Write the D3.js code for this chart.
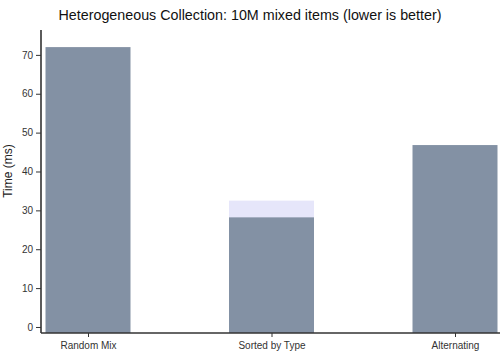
<!DOCTYPE html>
<html>
<head>
<meta charset="utf-8">
<script src="https://cdn.jsdelivr.net/npm/d3@7"></script>
<style>
  body { margin: 0; background: #fff; }
  svg { display: block; font-family: "Liberation Sans", Arial, sans-serif; }
</style>
</head>
<body>
<div id="chart"></div>
<script>
const categories = ["Random Mix", "Sorted by Type", "Alternating"]
const timeMs = [72, 28.2, 46.8]
const upperMs = [null, 32.5, null]
const yTicks = [0, 10, 20, 30, 40, 50, 60, 70]

const width = 500
const height = 357
const margin = { top: 30, right: 0, bottom: 24, left: 41 }

const svg = d3.select("#chart")
  .append("svg")
  .attr("width", width)
  .attr("height", height)

svg.append("text")
  .attr("x", 250)
  .attr("y", 20)
  .attr("text-anchor", "middle")
  .style("font-size", "14.3px")
  .style("fill", "#111")
  .text("Heterogeneous Collection: 10M mixed items (lower is better)")

const bottom = height - margin.bottom
// y domain slightly padded below zero, bars start from the axis line
const y = d3.scaleLinear()
  .domain([-1.55, 76.4])
  .range([bottom, margin.top])

const x = d3.scalePoint()
  .domain(categories)
  .range([88, 455])
const barWidth = 85

const data = categories.map((c, i) => ({ cat: c, value: timeMs[i], upper: upperMs[i] }))

svg.append("g")
  .selectAll("rect.upper")
  .data(data.filter(d => d.upper != null))
  .join("rect")
  .attr("class", "upper")
  .attr("x", d => x(d.cat) - barWidth / 2)
  .attr("y", d => y(d.upper))
  .attr("width", barWidth)
  .attr("height", d => bottom - y(d.upper))
  .attr("fill", "#e6e6fa")

svg.append("g")
  .selectAll("rect.bar")
  .data(data)
  .join("rect")
  .attr("class", "bar")
  .attr("x", d => x(d.cat) - barWidth / 2)
  .attr("y", d => y(d.value))
  .attr("width", barWidth)
  .attr("height", d => bottom - y(d.value))
  .attr("fill", "#8391a4")

const yAxis = svg.append("g")
  .attr("transform", `translate(${margin.left},0)`)
  .call(d3.axisLeft(y).tickValues(yTicks).tickSize(5).tickPadding(3))
yAxis.select(".domain").attr("d", `M0,${margin.top}V${bottom}`)

const xAxis = svg.append("g")
  .attr("transform", `translate(0,${bottom})`)
  .call(d3.axisBottom(x).tickSize(4).tickPadding(5))
xAxis.select(".domain").attr("d", `M${margin.left},0H${width}`)

svg.selectAll(".domain").attr("stroke", "#333").attr("stroke-width", 1.6)
svg.selectAll(".tick line").attr("stroke", "#333")
svg.selectAll(".tick text").style("font-size", "10px").style("fill", "#333")
  .style("font-family", "\"Liberation Sans\", Arial, sans-serif")

svg.append("text")
  .attr("transform", "translate(12,171) rotate(-90)")
  .attr("text-anchor", "middle")
  .style("font-size", "12px")
  .style("fill", "#222")
  .text("Time (ms)")
</script>
</body>
</html>
